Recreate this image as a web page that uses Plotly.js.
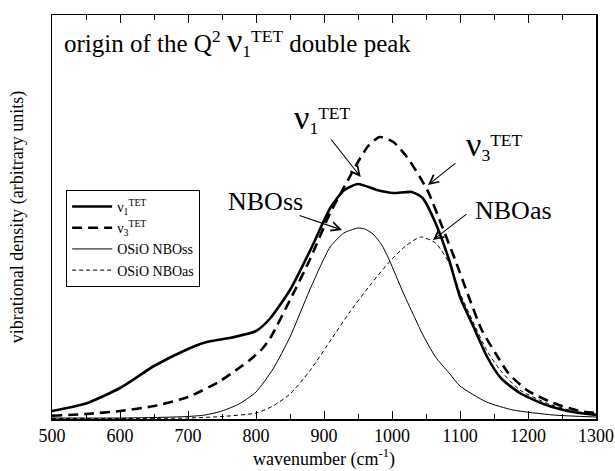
<!DOCTYPE html>
<html>
<head>
<meta charset="utf-8">
<script src="https://cdn.plot.ly/plotly-3.0.1.min.js"></script>
<style>html,body{margin:0;padding:0;background:#fff}#chart{width:615px;height:471px}</style>
</head>
<body>
<div id="chart"></div>
<script>
// wavenumber (cm^-1) and vibrational density (arbitrary units)
const nu1X = [500,550,600,650,700,725,765,800,820,850,880,910,930,950,978,1002,1029,1045,1064,1084,1100,1120,1140,1160,1188,1227,1266,1300];
const nu1Y = [0.08,0.155,0.31,0.53,0.70,0.765,0.815,0.88,1.00,1.29,1.69,2.12,2.29,2.35,2.29,2.26,2.27,2.21,1.96,1.59,1.22,0.92,0.62,0.41,0.26,0.14,0.07,0.04];

const nu3X = [500,550,600,650,700,745,775,791,809,821,850,879,909,933,950,965,982,1002,1022,1041,1054,1074,1093,1113,1132,1152,1171,1198,1237,1276,1300];
const nu3Y = [0.033,0.05,0.08,0.13,0.22,0.37,0.51,0.59,0.70,0.81,1.19,1.59,2.06,2.36,2.57,2.73,2.82,2.77,2.62,2.42,2.26,1.92,1.59,1.22,0.89,0.66,0.46,0.29,0.16,0.08,0.06];

const ssX = [500,600,650,700,725,750,775,800,825,850,879,909,929,940,950,960,972,985,996,1016,1035,1044,1064,1084,1100,1139,1178,1237,1300];
const ssY = [0.01,0.01,0.015,0.025,0.04,0.08,0.15,0.27,0.50,0.82,1.29,1.72,1.86,1.89,1.91,1.90,1.85,1.74,1.59,1.27,0.99,0.86,0.62,0.46,0.33,0.17,0.09,0.04,0.02];

const asX = [500,600,700,750,800,825,850,879,909,938,968,996,1020,1042,1064,1084,1100,1120,1139,1159,1188,1227,1266,1300];
const asY = [0.005,0.005,0.01,0.025,0.06,0.13,0.25,0.48,0.78,1.07,1.34,1.57,1.73,1.82,1.76,1.56,1.26,0.96,0.69,0.49,0.29,0.16,0.08,0.05];

const xTicks = [500,600,700,800,900,1000,1100,1200,1300];

const serif = 'Liberation Serif';
const big = 'font-size:34px';

const traces = [
  {x: nu1X, y: nu1Y, name: 'ν<sub>1</sub><sup>TET</sup>', mode: 'lines', line: {color: '#000', width: 2.6, shape: 'spline', smoothing: 0.6}},
  {x: nu3X, y: nu3Y, name: 'ν<sub>3</sub><sup>TET</sup>', mode: 'lines', line: {color: '#000', width: 2.6, dash: '10px,6px', shape: 'spline', smoothing: 0.6}},
  {x: ssX, y: ssY, name: 'OSiO NBOss', mode: 'lines', line: {color: '#000', width: 1, shape: 'spline', smoothing: 0.6}},
  {x: asX, y: asY, name: 'OSiO NBOas', mode: 'lines', line: {color: '#000', width: 1, dash: '4px,3px', shape: 'spline', smoothing: 0.6}}
];

function arrow(x0, y0, x1, y1) {
  return {x: x1, y: y1, ax: x0, ay: y0, xref: 'x', yref: 'y', axref: 'x', ayref: 'y',
    text: '', showarrow: true, arrowhead: 5, arrowsize: 1.6, arrowwidth: 1.1, arrowcolor: '#000'};
}

const layout = {
  width: 615, height: 471,
  margin: {l: 52, r: 19, t: 15, b: 52},
  paper_bgcolor: '#fff', plot_bgcolor: '#fff',
  font: {family: serif, color: '#000', size: 18},
  showlegend: true,
  legend: {x: 0.026, y: 0.567, xanchor: 'left', yanchor: 'top', bordercolor: '#000', borderwidth: 1,
    font: {family: serif, size: 14, color: '#000'}, tracegroupgap: 0, bgcolor: '#fff', itemwidth: 40},
  xaxis: {range: [500, 1300], tickvals: xTicks, ticktext: xTicks.map(String), ticks: 'inside', ticklen: 8,
    tickwidth: 1, tickcolor: '#000', showline: true, linecolor: '#000', linewidth: 1.5, mirror: 'ticks',
    showgrid: false, zeroline: false, tickfont: {family: serif, size: 18, color: '#000'},
    minor: {dtick: 50, ticks: 'inside', ticklen: 5, tickcolor: '#000', tickwidth: 1, showgrid: false},
    title: {text: 'wavenumber (cm<sup>-1</sup>)', font: {family: serif, size: 18, color: '#000'}, standoff: 4}},
  yaxis: {range: [0, 4.04], showticklabels: false, ticks: '', showline: true, linecolor: '#000', linewidth: 1.5,
    mirror: true, showgrid: false, zeroline: false,
    title: {text: 'vibrational density (arbitrary units)', font: {family: serif, size: 18, color: '#000'}, standoff: 22}},
  annotations: [
    {xref: 'paper', yref: 'paper', x: 0.018, y: 0.935, xanchor: 'left', yanchor: 'middle', showarrow: false,
     text: 'origin of the Q<sup>2</sup> <span style="' + big + '">ν</span><sub>1</sub><sup>TET</sup> double peak', font: {family: serif, size: 25, color: '#000'}},
    {xref: 'paper', yref: 'paper', x: (292 - 52) / 544, y: (419 - 118) / 404, xanchor: 'left', yanchor: 'middle', showarrow: false,
     text: '<span style="' + big + '">ν</span><sub>1</sub><sup>TET</sup>', font: {family: serif, size: 25, color: '#000'}},
    {xref: 'paper', yref: 'paper', x: (464 - 52) / 544, y: (419 - 146) / 404, xanchor: 'left', yanchor: 'middle', showarrow: false,
     text: '<span style="' + big + '">ν</span><sub>3</sub><sup>TET</sup>', font: {family: serif, size: 25, color: '#000'}},
    {xref: 'paper', yref: 'paper', x: (513 - 52) / 544, y: (419 - 210) / 404, xanchor: 'center', yanchor: 'middle', showarrow: false,
     text: 'NBOas', font: {family: serif, size: 26, color: '#000'}},
    {xref: 'paper', yref: 'paper', x: (265 - 52) / 544, y: (419 - 201) / 404, xanchor: 'center', yanchor: 'middle', showarrow: false,
     text: 'NBOss', font: {family: serif, size: 26, color: '#000'}},
    arrow(908.8, 2.81, 954, 2.42),
    arrow(1095.6, 2.57, 1052.9, 2.34),
    arrow(1111.8, 2.06, 1060.3, 1.79),
    arrow(861.8, 2.04, 926.5, 1.89)
  ]
};

Plotly.newPlot('chart', traces, layout, {staticPlot: true, displayModeBar: false});
</script>
</body>
</html>
